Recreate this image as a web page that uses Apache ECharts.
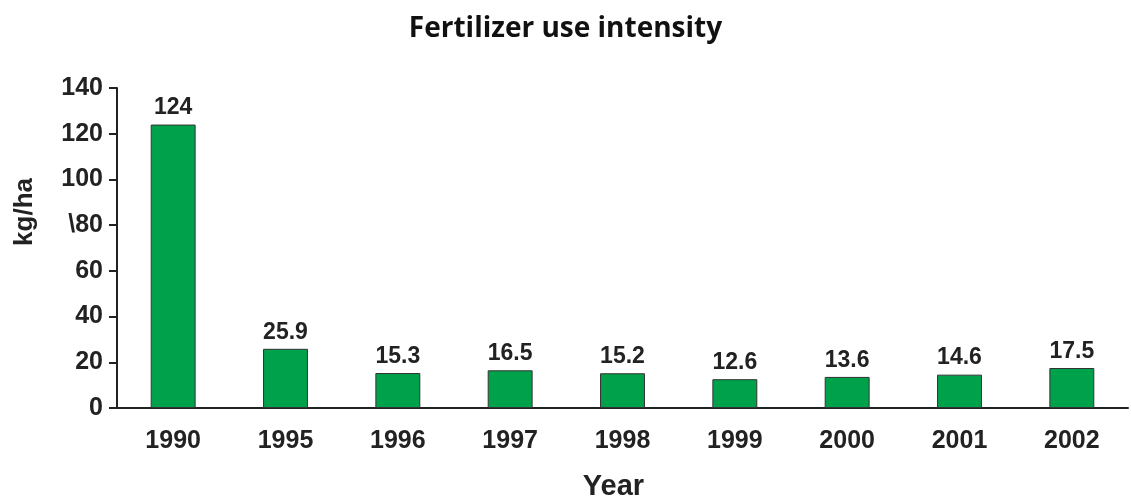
<!DOCTYPE html>
<html>
<head>
<meta charset="utf-8">
<script src="https://cdn.jsdelivr.net/npm/echarts@6/dist/echarts.min.js"></script>
<style>
  html, body { margin: 0; padding: 0; background: #fff; }
  #chart { width: 1131px; height: 499px; }
</style>
</head>
<body>
<div id="chart"></div>
<script>
// data
const years = ['1990', '1995', '1996', '1997', '1998', '1999', '2000', '2001', '2002']
const useKgHa = [124, 25.9, 15.3, 16.5, 15.2, 12.6, 13.6, 14.6, 17.5]

const narrow = '"Liberation Sans Narrow", "Arial Narrow", "Liberation Sans", sans-serif'
const textColor = '#222'

const chart = echarts.init(document.getElementById('chart'))

const option = {
  animation: false,
  title: {
    text: 'Fertilizer use intensity',
    left: 'center',
    top: 10,
    textStyle: {
      fontFamily: '"Open Sans", sans-serif',
      fontWeight: 'bold',
      fontSize: 28,
      color: '#111'
    }
  },
  grid: { left: 117, right: 3, top: 88, bottom: 91, outerBoundsMode: 'none' },
  xAxis: {
    type: 'category',
    data: years,
    name: 'Year',
    nameLocation: 'middle',
    nameGap: 64,
    nameTextStyle: {
      fontFamily: '"Liberation Sans", Arial, sans-serif',
      fontWeight: 'bold',
      fontSize: 29,
      color: textColor,
      padding: [0, 18, 0, 0]
    },
    axisLine: { lineStyle: { color: '#222', width: 2 } },
    axisTick: { length: 8, lineStyle: { color: '#222', width: 2 } },
    axisLabel: {
      margin: 21,
      fontFamily: narrow,
      fontWeight: 'bold',
      fontSize: 25,
      color: textColor
    }
  },
  yAxis: {
    type: 'value',
    min: 0,
    max: 140,
    interval: 20,
    splitLine: { show: false },
    axisLine: { show: true, lineStyle: { color: '#222', width: 2 } },
    axisTick: { show: true, length: 8, lineStyle: { color: '#222', width: 2 } },
    axisLabel: {
      margin: 14,
      fontFamily: narrow,
      fontWeight: 'bold',
      fontSize: 25,
      color: textColor,
      // the source picture has a stray backslash on the 80 label
      formatter: v => (v === 80 ? '\\80' : String(v))
    }
  },
  graphic: [
    {
      type: 'text',
      left: 12,
      top: 178,
      rotation: Math.PI / 2,
      style: {
        text: 'kg/ha',
        font: 'bold 26px "Liberation Sans", Arial, sans-serif',
        fill: textColor
      }
    }
  ],
  series: [
    {
      type: 'bar',
      data: useKgHa,
      barWidth: '40%',
      itemStyle: {
        color: '#00a14b',
        borderColor: '#333',
        borderWidth: 1
      },
      label: {
        show: true,
        position: 'top',
        distance: 5,
        fontFamily: narrow,
        fontWeight: 'bold',
        fontSize: 23,
        color: textColor
      }
    }
  ]
}

chart.setOption(option)
</script>
</body>
</html>
